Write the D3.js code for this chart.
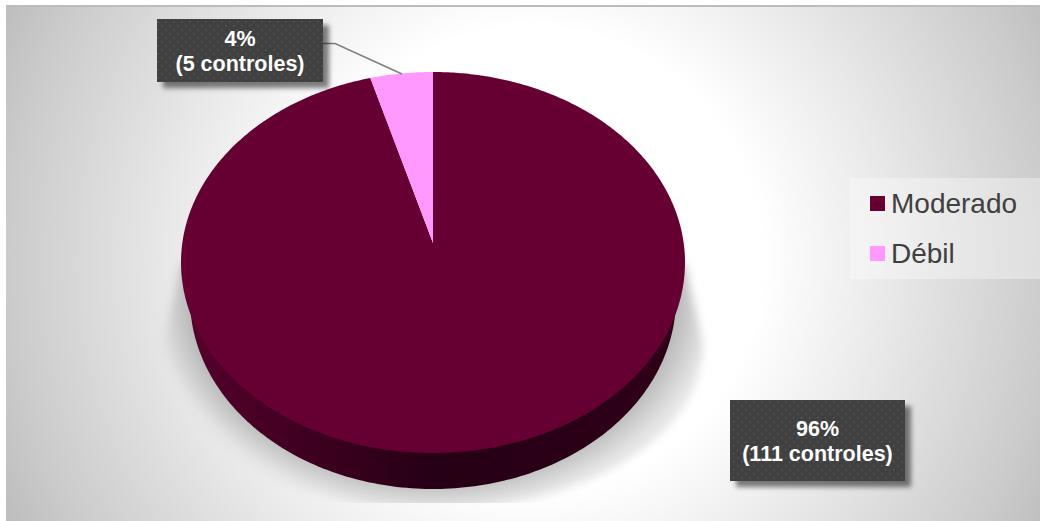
<!DOCTYPE html>
<html>
<head>
<meta charset="utf-8">
<script src="https://cdn.jsdelivr.net/npm/d3@7"></script>
<style>
  html, body { margin: 0; padding: 0; background: #fff; }
  svg { display: block; }
  text { font-family: "Liberation Sans", Arial, sans-serif; }
</style>
</head>
<body>
<div id="chart"></div>
<script>
const categories = ['Moderado', 'Débil'];
const shares = [96, 4];
const counts = [111, 5];
const colors = ['#660033', '#ff99ff'];

const width = 1040, height = 521;
const cx = 433, rx = 252, wallRx = 243;
const faceTop = 72, faceBottom = 453, depth = 36, apexY = 243;
const ry = (faceBottom - faceTop) / 2;
const cy = faceTop + ry;

const svg = d3.select('#chart').append('svg')
    .attr('width', width)
    .attr('height', height);
const defs = svg.append('defs');

// background
const bg = defs.append('radialGradient').attr('id', 'bg')
    .attr('gradientUnits', 'userSpaceOnUse')
    .attr('cx', 530).attr('cy', 260).attr('r', 580);
[[0.4, '#ffffff'], [0.6, '#ebebeb'], [0.9, '#cbcbcb'], [1, '#bebebe']].forEach(s =>
    bg.append('stop').attr('offset', s[0]).attr('stop-color', s[1]));

const side = defs.append('linearGradient').attr('id', 'side');
[[0, '#55002b'], [0.5, '#260014'], [1, '#2e0018']].forEach(s =>
    side.append('stop').attr('offset', s[0]).attr('stop-color', s[1]));

const floorShade = defs.append('radialGradient').attr('id', 'floorShade')
    .attr('gradientUnits', 'userSpaceOnUse')
    .attr('cx', 0).attr('cy', 0).attr('r', 280)
    .attr('gradientTransform', `translate(${cx},${cy + depth}) scale(1,0.75)`);
[[0.85, '#b4b4b4'], [1, '#e6e6e6']].forEach(s =>
    floorShade.append('stop').attr('offset', s[0]).attr('stop-color', s[1]));

defs.append('filter').attr('id', 'blur').attr('x', '-20%').attr('y', '-20%').attr('width', '140%').attr('height', '140%')
    .append('feGaussianBlur').attr('stdDeviation', 4);

defs.append('clipPath').attr('id', 'floor')
    .append('rect').attr('x', 0).attr('y', 0).attr('width', width).attr('height', 503);

const boxShadow = defs.append('filter').attr('id', 'boxShadow').attr('x', '-10%').attr('y', '-20%').attr('width', '125%').attr('height', '150%');
boxShadow.append('feDropShadow').attr('dx', 6).attr('dy', 6).attr('stdDeviation', 2.5)
    .attr('flood-color', '#000').attr('flood-opacity', 0.5);

const dots = defs.append('pattern').attr('id', 'dots')
    .attr('patternUnits', 'userSpaceOnUse').attr('width', 8).attr('height', 8);
dots.append('rect').attr('width', 8).attr('height', 8).attr('fill', '#404040');
dots.append('rect').attr('x', 1).attr('y', 1).attr('width', 1.5).attr('height', 1.5).attr('fill', '#575757');
dots.append('rect').attr('x', 5).attr('y', 5).attr('width', 1.5).attr('height', 1.5).attr('fill', '#575757');

svg.append('rect')
    .attr('x', 6).attr('y', 6)
    .attr('width', width - 6).attr('height', height - 6)
    .attr('fill', 'url(#bg)');
svg.append('rect')
    .attr('x', 6).attr('y', 5)
    .attr('width', width - 6).attr('height', 2)
    .attr('fill', '#bcbcbc');

// floor shadow
const line = d3.line();
const rim = (a, dy = 0, r = rx) => [cx + r * Math.sin(a), cy - ry * Math.cos(a) + dy];

const shadowPts = [[cx - rx, cy]]
    .concat(d3.range(-Math.PI / 2, Math.PI / 2 + 0.01, 0.05).map(t =>
        [cx + 270 * Math.sin(t), 345 + 165 * Math.cos(t)]))
    .concat([[cx + rx, cy]]);
svg.append('g')
    .attr('clip-path', 'url(#floor)')
    .append('path')
    .attr('d', line(shadowPts) + 'Z')
    .attr('fill', 'url(#floorShade)')
    .attr('filter', 'url(#blur)');

// side wall, narrower at the bottom for the perspective
const wallAngles = d3.range(Math.PI / 2, 3 * Math.PI / 2 + 0.01, 0.02);
svg.append('path')
    .attr('d', line(wallAngles.map(a => rim(a, depth, wallRx))) + 'Z')
    .attr('fill', 'url(#side)');

// top face
const pie = d3.pie().sort(null);
const arcs = pie(shares);
svg.selectAll('path.slice')
    .data(arcs)
    .join('path')
    .attr('class', 'slice')
    .attr('fill', (d, i) => colors[i])
    .attr('d', d => {
        const pts = d3.range(d.startAngle, d.endAngle, 0.01).concat([d.endAngle]).map(a => rim(a));
        return line([[cx, apexY]].concat(pts)) + 'Z';
    });

// labels
function label(x, y, w, h, i, base) {
    svg.append('rect')
        .attr('x', x).attr('y', y)
        .attr('width', w).attr('height', h)
        .attr('fill', 'url(#dots)')
        .attr('filter', 'url(#boxShadow)');
    const t = svg.append('text')
        .attr('text-anchor', 'middle')
        .attr('fill', '#fff')
        .attr('font-size', 21.5)
        .attr('font-weight', 'bold');
    t.append('tspan').attr('x', x + w / 2).attr('y', y + base).text(shares[i] + '%');
    t.append('tspan').attr('x', x + w / 2).attr('y', y + base + 25).text('(' + counts[i] + ' controles)');
}

svg.append('path')
    .attr('d', line([[323, 43.5], [335, 43.5], [402, 74]]))
    .attr('fill', 'none')
    .attr('stroke', '#7f7f7f')
    .attr('stroke-width', 1.5);

label(157, 19, 166, 63, 1, 27);
label(730, 400, 175, 81, 0, 36);

// legend
svg.append('rect')
    .attr('x', 850).attr('y', 178)
    .attr('width', 190).attr('height', 101)
    .attr('fill', '#fff')
    .attr('fill-opacity', 0.35);

const legend = svg.selectAll('g.legend')
    .data(categories)
    .join('g')
    .attr('class', 'legend')
    .attr('transform', (d, i) => `translate(870,${196 + i * 50})`);
legend.append('rect')
    .attr('width', 15).attr('height', 15)
    .attr('fill', (d, i) => colors[i]);
legend.append('text')
    .attr('x', 21).attr('y', 17)
    .attr('font-size', 28)
    .attr('fill', '#404040')
    .text(d => d);
</script>
</body>
</html>
